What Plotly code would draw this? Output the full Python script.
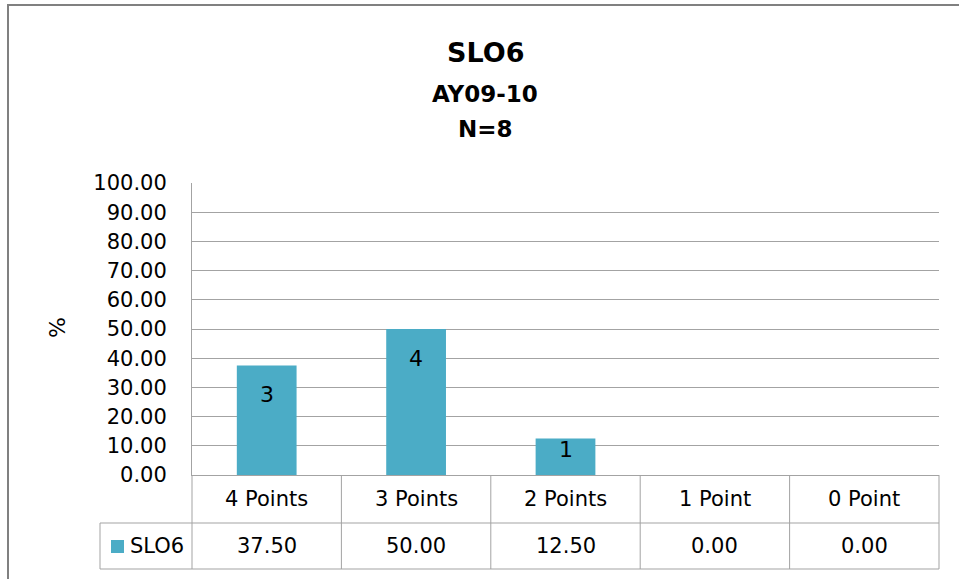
import plotly.graph_objects as go

# ---- data ----
categories = ["4 Points", "3 Points", "2 Points", "1 Point", "0 Point"]
percent_values = [37.50, 50.00, 12.50, 0.00, 0.00]
count_labels = [3, 4, 1, 0, 0]
series_name = "SLO6"
title_lines = ["SLO6", "AY09-10", "N=8"]
y_ticks = [0, 10, 20, 30, 40, 50, 60, 70, 80, 90, 100]
y_title = "%"

# ---- style ----
BAR = "#4BACC6"
GRID = "#a3a3a3"
FONT = "DejaVu Sans"
W, H = 959, 579
L, R, T, B = 192, 20, 183, 104
PW, PH = W - L - R, H - T - B


def px_x(px):
    return (px - L) / PW


def px_y(py):
    return (H - B - py) / PH


fig = go.Figure()
fig.add_trace(go.Bar(
    x=categories, y=percent_values, name=series_name,
    marker=dict(color=BAR, line=dict(width=0)), width=0.4,
    hoverinfo="x+y",
))

annotations = []
# title lines
title_sizes = [27, 23, 23]
title_centers = [52, 94, 129]
for txt, sz, cy in zip(title_lines, title_sizes, title_centers):
    annotations.append(dict(text=f"<b>{txt}</b>", xref="paper", yref="paper",
                            x=px_x(485), y=px_y(cy), xanchor="center", yanchor="middle",
                            showarrow=False, font=dict(family=FONT, size=sz, color="#000")))
# y title
annotations.append(dict(text=y_title, xref="paper", yref="paper", x=px_x(57), y=px_y(328),
                        textangle=-90, showarrow=False, xanchor="center", yanchor="middle",
                        font=dict(family=FONT, size=22, color="#000")))
# bar data labels (inside end)
for c, v, n in zip(categories, percent_values, count_labels):
    if n:
        annotations.append(dict(text=str(n), xref="x", yref="y", x=c, y=max(v - 10, v * 0.7),
                                showarrow=False, xanchor="center", yanchor="middle",
                                font=dict(family=FONT, size=22, color="#000")))
# data table text
for c, v in zip(categories, percent_values):
    annotations.append(dict(text=c, xref="x", yref="paper", x=c, y=px_y(499),
                            showarrow=False, xanchor="center", yanchor="middle",
                            font=dict(family=FONT, size=21, color="#000")))
    annotations.append(dict(text=f"{v:.2f}", xref="x", yref="paper", x=c, y=px_y(546),
                            showarrow=False, xanchor="center", yanchor="middle",
                            font=dict(family=FONT, size=21, color="#000")))
annotations.append(dict(text=series_name, xref="paper", yref="paper", x=px_x(128), y=px_y(546),
                        showarrow=False, xanchor="left", yanchor="middle",
                        font=dict(family=FONT, size=21, color="#000")))

shapes = []
line = dict(color=GRID, width=1)
n = len(categories)
row_mid, row_bot, left_cell = px_y(523), px_y(569), px_x(100)
shapes.append(dict(type="line", xref="paper", yref="paper", x0=left_cell, x1=1, y0=row_mid, y1=row_mid, line=line))
shapes.append(dict(type="line", xref="paper", yref="paper", x0=left_cell, x1=1, y0=row_bot, y1=row_bot, line=line))
shapes.append(dict(type="line", xref="paper", yref="paper", x0=left_cell, x1=left_cell, y0=row_mid, y1=row_bot, line=line))
for i in range(n + 1):
    shapes.append(dict(type="line", xref="paper", yref="paper", x0=i / n, x1=i / n, y0=0, y1=row_bot, line=line))
# legend key
shapes.append(dict(type="rect", xref="paper", yref="paper", x0=px_x(111), x1=px_x(124),
                   y0=px_y(553), y1=px_y(540), fillcolor=BAR, line=dict(width=0)))
# outer chart border
shapes.append(dict(type="rect", xref="paper", yref="paper", x0=px_x(8), x1=px_x(975),
                   y0=px_y(590), y1=px_y(5), line=dict(color="#808080", width=2)))

fig.update_layout(
    width=W, height=H, margin=dict(l=L, r=R, t=T, b=B),
    paper_bgcolor="white", plot_bgcolor="white", showlegend=False,
    annotations=annotations, shapes=shapes,
    bargap=0.6,
)
fig.update_xaxes(showticklabels=False, showline=True, linecolor=GRID, linewidth=1,
                 showgrid=False, ticks="", range=[-0.5, n - 0.5])
fig.update_yaxes(range=[0, 100], tickvals=y_ticks, tickformat=".2f", showgrid=True,
                 gridcolor=GRID, gridwidth=1, showline=True, linecolor=GRID, linewidth=1,
                 zeroline=False, ticks="outside", ticklen=20, tickcolor="rgba(0,0,0,0)",
                 tickfont=dict(family=FONT, size=21, color="#000"))

fig.write_html("out.html", config={"displayModeBar": False},
               post_script="document.body.style.margin='0';document.body.style.padding='0';"
                           "document.documentElement.style.overflow='hidden';")
